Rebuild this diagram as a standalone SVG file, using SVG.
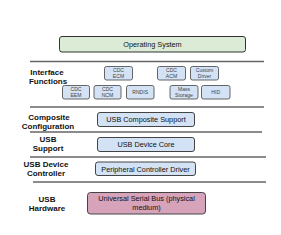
<svg xmlns="http://www.w3.org/2000/svg" width="281" height="235" viewBox="0 0 281 235">
<style>
.bg{fill:#ffffff}
.sep{stroke:#666;stroke-width:1.3}
.lab{font-family:"Liberation Sans",Arial,sans-serif;font-weight:bold;font-size:8px;fill:#111;text-anchor:middle}
.os{fill:#dcebd6;stroke:#333;stroke-width:1}
.blue{fill:#d3e2f4;stroke:#444;stroke-width:1}
.sm{fill:#d3e2f4;stroke:#555;stroke-width:0.9}
.pink{fill:#d6a3bb;stroke:#444;stroke-width:1}
.t{font-family:"Liberation Sans",Arial,sans-serif;font-size:7.3px;fill:#111;text-anchor:middle}
.ts{font-family:"Liberation Sans",Arial,sans-serif;font-size:5.1px;fill:#444;text-anchor:middle}
</style>
<rect class="bg" width="281" height="235"/>
<g id="separators">
<line class="sep" x1="30" y1="61.5" x2="264" y2="61.5"/>
<line class="sep" x1="30" y1="107" x2="264" y2="107"/>
<line class="sep" x1="30" y1="132" x2="262" y2="132"/>
<line class="sep" x1="30" y1="157" x2="266" y2="157"/>
<line class="sep" x1="33" y1="182" x2="266" y2="182"/>
</g>
<g id="labels">
<text class="lab" x="47" y="75">Interface</text>
<text class="lab" x="48" y="83.5">Functions</text>
<text class="lab" x="49" y="120">Composite</text>
<text class="lab" x="48" y="128.5">Configuration</text>
<text class="lab" x="48" y="142">USB</text>
<text class="lab" x="48" y="150.5">Support</text>
<text class="lab" x="46" y="167">USB Device</text>
<text class="lab" x="46" y="175.5">Controller</text>
<text class="lab" x="47" y="202">USB</text>
<text class="lab" x="47" y="210.5">Hardware</text>
</g>
<g id="os"><rect class="os" x="59.5" y="36.5" width="186" height="15.5" rx="2.5"/><text class="t" x="152.5" y="47">Operating System</text></g>
<g id="cdc-ecm"><rect class="sm" x="104.5" y="66.5" width="28" height="13.5" rx="2"/><text class="ts" x="118.5" y="72.4">CDC</text><text class="ts" x="118.5" y="78">ECM</text></g>
<g id="cdc-acm"><rect class="sm" x="157.5" y="66.5" width="28" height="13.5" rx="2"/><text class="ts" x="171.5" y="72.4">CDC</text><text class="ts" x="171.5" y="78">ACM</text></g>
<g id="custom-driver"><rect class="sm" x="190.5" y="66.5" width="28" height="13.5" rx="2"/><text class="ts" x="204.5" y="72.4">Custom</text><text class="ts" x="204.5" y="78">Driver</text></g>
<g id="cdc-eem"><rect class="sm" x="62.5" y="85.5" width="27" height="13.5" rx="2"/><text class="ts" x="76" y="91.4">CDC</text><text class="ts" x="76" y="97">EEM</text></g>
<g id="cdc-ncm"><rect class="sm" x="94" y="85.5" width="27" height="13.5" rx="2"/><text class="ts" x="107.5" y="91.4">CDC</text><text class="ts" x="107.5" y="97">NCM</text></g>
<g id="rndis"><rect class="sm" x="126.5" y="85.5" width="27.5" height="13.5" rx="2"/><text class="ts" x="140.2" y="94">RNDIS</text></g>
<g id="mass-storage"><rect class="sm" x="170" y="85.5" width="28" height="13.5" rx="2"/><text class="ts" x="184" y="91.4">Mass</text><text class="ts" x="184" y="97">Storage</text></g>
<g id="hid"><rect class="sm" x="201.5" y="85.5" width="28.5" height="13.5" rx="2"/><text class="ts" x="215.7" y="94">HID</text></g>
<g id="composite"><rect class="blue" x="97.5" y="112.5" width="97" height="14" rx="2.5"/><text class="t" x="146" y="122">USB Composite Support</text></g>
<g id="device-core"><rect class="blue" x="97.5" y="137.5" width="97" height="14" rx="2.5"/><text class="t" x="146" y="147">USB Device Core</text></g>
<g id="pcd"><rect class="blue" x="95.5" y="162" width="100" height="13.5" rx="2.5"/><text class="t" x="145.5" y="171.5">Peripheral Controller Driver</text></g>
<g id="usb-hw"><rect class="pink" x="87.5" y="192.5" width="118" height="21.5" rx="3"/><text class="t" x="146.5" y="201">Universal Serial Bus (physical</text><text class="t" x="146.5" y="210">medium)</text></g>
<g id="connectors"/>
</svg>
